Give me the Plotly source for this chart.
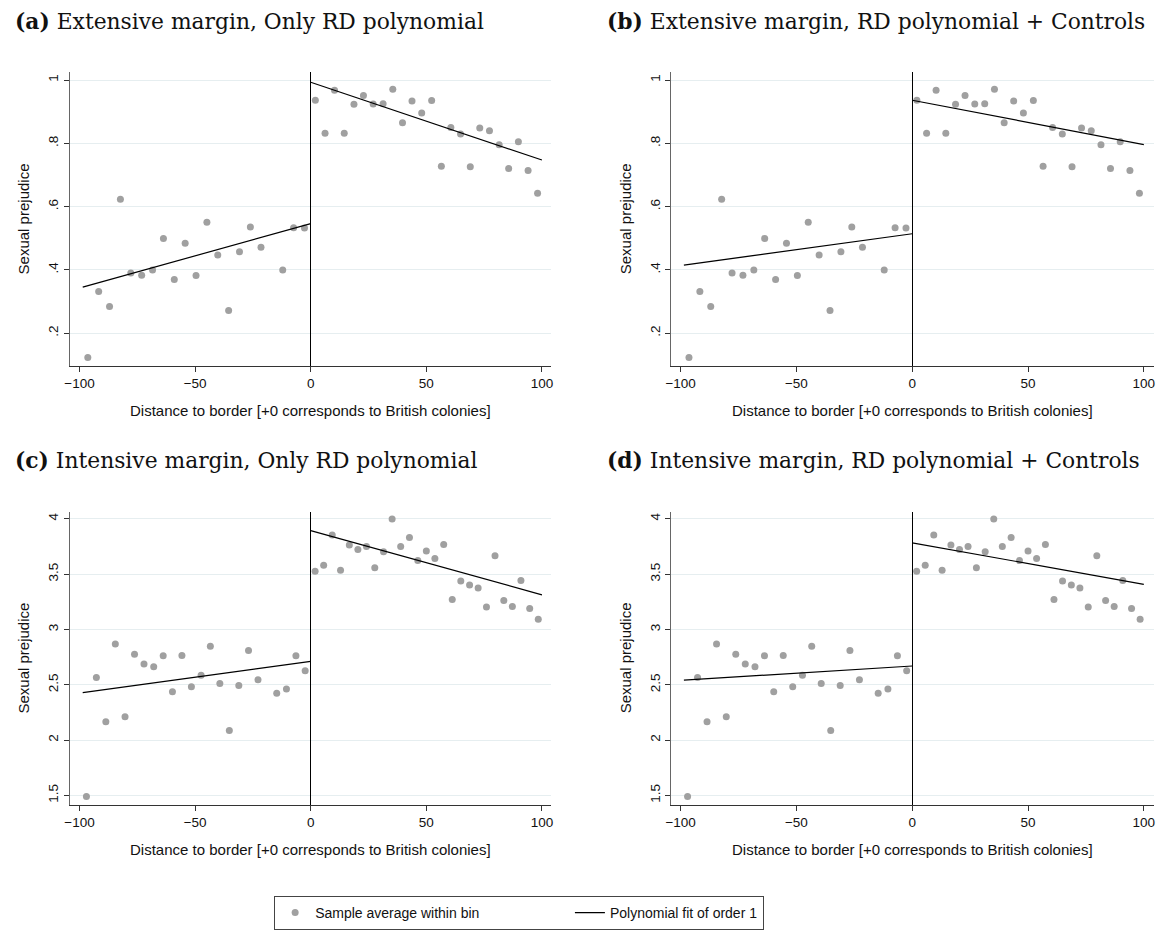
import plotly.graph_objects as go

# ---------------- data ----------------
ext_bin_x = [-96.4, -91.7, -87.0, -82.3, -77.8, -73.1, -68.4, -63.7, -59.0, -54.3,
             -49.6, -44.9, -40.2, -35.5, -30.8, -26.1, -21.5, -12.1, -7.4, -2.7,
             2.0, 6.2, 10.3, 14.5, 18.7, 22.8, 27.0, 31.3, 35.5, 39.7, 43.8, 48.0,
             52.3, 56.5, 60.6, 64.8, 69.0, 73.1, 77.3, 81.5, 85.6, 89.8, 94.0, 98.1]
ext_bin_y = [0.123, 0.331, 0.284, 0.623, 0.390, 0.383, 0.399, 0.499, 0.369, 0.484,
             0.382, 0.550, 0.447, 0.271, 0.457, 0.535, 0.471, 0.399, 0.533, 0.532,
             0.936, 0.832, 0.968, 0.832, 0.923, 0.951, 0.924, 0.925, 0.971, 0.865, 0.934, 0.896,
             0.935, 0.727, 0.850, 0.829, 0.726, 0.848, 0.840, 0.795, 0.720, 0.805, 0.714, 0.642]

int_bin_x = [-97.0, -92.7, -88.6, -84.5, -80.3, -76.2, -72.1, -67.9, -63.8, -59.8,
             -55.7, -51.6, -47.4, -43.4, -39.3, -35.2, -31.1, -26.9, -22.8, -14.7,
             -10.5, -6.4, -2.4,
             1.9, 5.6, 9.3, 12.9, 16.7, 20.4, 24.1, 27.7, 31.5, 35.2, 38.9, 42.7, 46.3,
             50.0, 53.7, 57.5, 61.2, 64.9, 68.7, 72.4, 76.0, 79.7, 83.5, 87.2, 90.9, 94.7, 98.4]
int_bin_y = [1.49, 2.565, 2.167, 2.869, 2.211, 2.777, 2.688, 2.664, 2.762, 2.438,
             2.765, 2.482, 2.586, 2.848, 2.512, 2.086, 2.494, 2.810, 2.545, 2.423,
             2.461, 2.762, 2.628,
             3.527, 3.580, 3.854, 3.536, 3.762, 3.723, 3.750, 3.557, 3.702, 3.997, 3.750, 3.830, 3.622,
             3.708, 3.640, 3.768, 3.271, 3.438, 3.402, 3.375, 3.202, 3.667, 3.262, 3.208, 3.443, 3.190, 3.092]

# fitted line end points: left segment then right segment (None = break at the border)
fit_x = [-98.6, 0, None, 0, 100]
fit_a = [0.345, 0.546, None, 0.993, 0.747]
fit_b = [0.415, 0.514, None, 0.936, 0.796]
fit_c = [2.429, 2.711, None, 3.893, 3.3125]
fit_d = [2.542, 2.670, None, 3.783, 3.408]

x_ticks = [-100, -50, 0, 50, 100]
ext_ticks = [0.2, 0.4, 0.6, 0.8, 1.0]
ext_ticktext = [".2", ".4", ".6", ".8", "1"]
int_ticks = [1.5, 2, 2.5, 3, 3.5, 4]
int_ticktext = ["1.5", "2", "2.5", "3", "3.5", "4"]

titles = [("(a)", "Extensive margin, Only RD polynomial"),
          ("(b)", "Extensive margin, RD polynomial + Controls"),
          ("(c)", "Intensive margin, Only RD polynomial"),
          ("(d)", "Intensive margin, RD polynomial + Controls")]
y_title = "Sexual prejudice"
x_title = "Distance to border [+0 corresponds to British colonies]"
legend_names = ["Sample average within bin", "Polynomial fit of order 1"]

# ---------------- layout geometry ----------------
W, H = 1159, 930
col_px = [(64, 549), (670, 1156)]
row_px = [(73.3, 370), (517.7, 814.4)]
x_ranges = [[-104.29, 104.0], [-104.0, 104.4]]
y_ranges = [[0.097, 1.024], [1.416, 4.065]]

SANS = "Liberation Sans, Arial, sans-serif"
SERIF = "DejaVu Serif, serif"
DOT = "#a0a0a0"
GRID = "#e6eef0"

fig = go.Figure()
panels = [(0, 0, ext_bin_x, ext_bin_y, fit_a),
          (0, 1, ext_bin_x, ext_bin_y, fit_b),
          (1, 0, int_bin_x, int_bin_y, fit_c),
          (1, 1, int_bin_x, int_bin_y, fit_d)]

NB = "\u00a0"
annotations = []
for i, (r, c, bx, by, fy) in enumerate(panels):
    n = i + 1
    xa = "x" if n == 1 else f"x{n}"
    ya = "y" if n == 1 else f"y{n}"
    fig.add_trace(go.Scatter(x=bx, y=by, mode="markers", xaxis=xa, yaxis=ya,
                             marker=dict(color=DOT, size=7),
                             name=legend_names[0] + NB * 22, showlegend=(n == 1)))
    fig.add_trace(go.Scatter(x=fit_x, y=fy, mode="lines", xaxis=xa, yaxis=ya,
                             line=dict(color="black", width=1.2),
                             name=legend_names[1], showlegend=(n == 1)))
    x0, x1 = col_px[c]
    y0, y1 = row_px[r]
    xd = [x0 / W, x1 / W]
    yd = [1 - y1 / H, 1 - y0 / H]
    xkey = "xaxis" if n == 1 else f"xaxis{n}"
    ykey = "yaxis" if n == 1 else f"yaxis{n}"
    fig.layout[xkey] = dict(domain=xd, range=x_ranges[c], anchor=ya,
                            tickvals=x_ticks, ticks="outside", ticklen=5, tickcolor="#333",
                            showline=True, linecolor="#333", linewidth=1,
                            showgrid=False, zeroline=True, zerolinecolor="black",
                            zerolinewidth=1, tickfont=dict(family=SANS, size=13.5, color="#111"))
    tv, tt = (ext_ticks, ext_ticktext) if r == 0 else (int_ticks, int_ticktext)
    fig.layout[ykey] = dict(domain=yd, range=y_ranges[r], anchor=xa,
                            tickvals=tv, ticktext=tt, ticks="outside", ticklen=5,
                            tickcolor="#333", tickangle=-90,
                            showline=True, linecolor="#666", linewidth=1,
                            showgrid=True, gridcolor=GRID, gridwidth=1, zeroline=False,
                            tickfont=dict(family=SANS, size=13.5, color="#111"))
    # panel title
    tx = 7 if c == 0 else 603
    ty = 22 if r == 0 else 466
    tag, txt = titles[i]
    annotations.append(dict(text=f"<b>{tag}</b> {txt}", x=tx / W, y=1 - ty / H,
                            xref="paper", yref="paper", xanchor="left", yanchor="middle",
                            showarrow=False, font=dict(family=SERIF, size=21.8, color="#111")))
    # y axis title
    annotations.append(dict(text=y_title, x=17.5 / W if c == 0 else (17.5 + 606) / W,
                            y=1 - (y0 + y1) / 2 / H, xref="paper", yref="paper",
                            xanchor="center", yanchor="middle", textangle=-90,
                            showarrow=False, font=dict(family=SANS, size=15, color="#111")))
    # x axis title
    annotations.append(dict(text=x_title, x=(x0 + x1) / 2 / W, y=1 - (y1 + 45) / H,
                            xref="paper", yref="paper", xanchor="center", yanchor="middle",
                            showarrow=False, font=dict(family=SANS, size=15, color="#111")))

fig.update_layout(
    width=W, height=H, margin=dict(l=0, r=0, t=0, b=0),
    paper_bgcolor="white", plot_bgcolor="white",
    annotations=annotations,
    legend=dict(orientation="h", x=270 / W, y=1 - 907 / H, xanchor="left", yanchor="top",
                bordercolor="#444", borderwidth=1, bgcolor="white",
                font=dict(family=SANS, size=14, color="#111")),
)

fig.write_html("out.html")
